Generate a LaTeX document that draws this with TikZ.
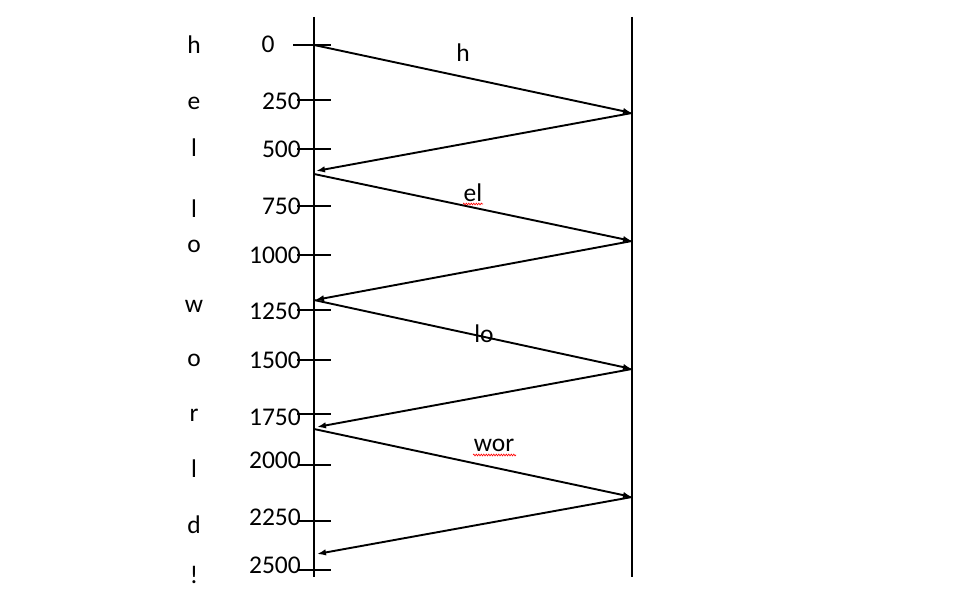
\documentclass[tikz,border=0pt]{standalone}
\usepackage{fontspec}
\setmainfont{Carlito}
\usetikzlibrary{arrows.meta,decorations.pathmorphing}
\begin{document}
\begin{tikzpicture}[x=1pt,y=-1pt,
  font=\fontsize{25.5}{30}\selectfont,
  axisline/.style={line width=1.9pt},
  tickline/.style={line width=1.9pt},
  msg/.style={line width=1.9pt,-{Latex[length=9pt,width=6.5pt]}},
  lbl/.style={inner sep=0pt,anchor=base},
  ticklbl/.style={inner sep=0pt,anchor=base east},
  squig/.style={red,line width=0.6pt,decorate,decoration={snake,segment length=2.5pt,amplitude=0.9pt}}]
\useasboundingbox (0,0) rectangle (964,593);
% axes
\coordinate (LT) at (314,17); \coordinate (LB) at (314,577);
\coordinate (RT) at (632,17); \coordinate (RB) at (632,577);
\draw[axisline] (LT) -- (LB);
\draw[axisline] (RT) -- (RB);
% ticks
\coordinate (t0a) at (293,45); \coordinate (t0b) at (331,45);
\draw[tickline] (t0a) -- (t0b);
\foreach \n/\y in {250/100,500/149,750/206,1000/255,1250/310,1500/360,1750/414,2000/465,2250/521,2500/570}{
  \coordinate (ta\n) at (297,\y); \coordinate (tb\n) at (331,\y);
  \draw[tickline] (ta\n) -- (tb\n);
}
% tick labels
\node[lbl] (n0) at (268,53) {0};
\foreach \n/\y in {250/110,500/158,750/215,1000/264,1250/320,1500/369,1750/426,2000/468,2250/525,2500/573}{
  \node[ticklbl] (n\n) at (301,\y) {\n};
}
% letters
\foreach \c/\y [count=\i] in {h/54,e/110,l/157,l/218,o/253,w/313,o/367,r/421,l/477,d/533,!/583}{
  \node[lbl] (c\i) at (194,\y) {\c};
}
% message endpoints
\coordinate (a1) at (314,45);  \coordinate (b1) at (632,113);
\coordinate (a2) at (316,171);
\coordinate (a3) at (314,174); \coordinate (b3) at (632,241);
\coordinate (a4) at (315,300);
\coordinate (a5) at (314,300); \coordinate (b5) at (632,369);
\coordinate (a6) at (317,427);
\coordinate (a7) at (314,429); \coordinate (b7) at (632,497);
\coordinate (a8) at (317,554);
\draw[msg] (a1) -- (b1);
\draw[msg] (b1) -- (a2);
\draw[msg] (a3) -- (b3);
\draw[msg] (b3) -- (a4);
\draw[msg] (a5) -- (b5);
\draw[msg] (b5) -- (a6);
\draw[msg] (a7) -- (b7);
\draw[msg] (b7) -- (a8);
% message labels
\node[lbl] (m1) at (463,62) {h};
\node[lbl] (m2) at (473,202) {el};
\node[lbl] (m3) at (484,343) {lo};
\node[lbl] (m4) at (494,451) {wor};
\coordinate (s1a) at (463,204); \coordinate (s1b) at (483,204);
\coordinate (s2a) at (473,455); \coordinate (s2b) at (516,455);
\draw[squig] (s1a) -- (s1b);
\draw[squig] (s2a) -- (s2b);
\end{tikzpicture}
\end{document}
